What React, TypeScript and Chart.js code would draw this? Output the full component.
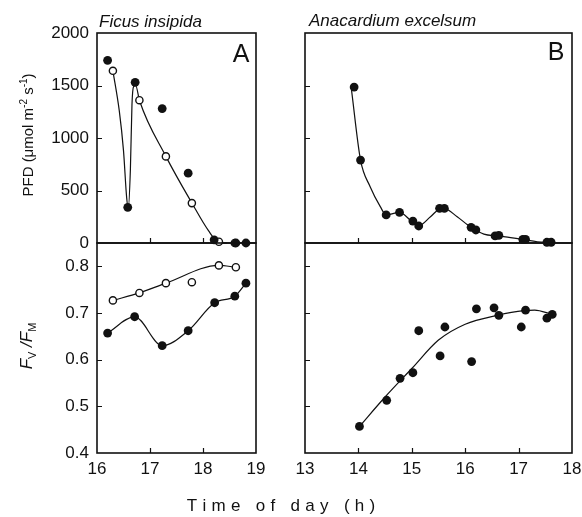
import React, { useEffect, useRef } from 'react';
import { Chart, registerables } from 'chart.js';

Chart.register(...registerables);

// ---------- Panel A : Ficus insipida, PFD ----------
const ficusPfdFilledTime = [16.2, 16.58, 16.72, 17.23, 17.72, 18.21, 18.62, 18.81];
const ficusPfdFilled = [1740, 340, 1530, 1280, 665, 30, 0, 0];
const ficusPfdOpenTime = [16.3, 16.8, 17.3, 17.79, 18.3, 18.6];
const ficusPfdOpen = [1640, 1360, 825, 380, 12, 0];
const ficusPfdCurveTime = [16.3, 16.42, 16.5, 16.56, 16.59, 16.63, 16.66, 16.69, 16.73, 16.8, 17.3, 17.79, 18.1, 18.3, 18.45];
const ficusPfdCurve = [1640, 1260, 880, 430, 330, 700, 1320, 1490, 1500, 1360, 825, 381, 120, 5, 0];

// ---------- Ficus insipida, Fv/Fm ----------
const ficusFvFilledTime = [16.2, 16.71, 17.23, 17.72, 18.22, 18.6, 18.81];
const ficusFvFilled = [0.657, 0.692, 0.63, 0.662, 0.722, 0.736, 0.764];
const ficusFvOpenTime = [16.3, 16.8, 17.3, 17.79, 18.3, 18.62];
const ficusFvOpen = [0.727, 0.743, 0.764, 0.766, 0.802, 0.798];
const ficusFvOpenCurveTime = [16.3, 16.8, 17.3, 18.3, 18.62];
const ficusFvOpenCurve = [0.727, 0.743, 0.764, 0.802, 0.798];

// ---------- Panel B : Anacardium excelsum, PFD ----------
const anaPfdTime = [13.92, 14.04, 14.52, 14.77, 15.02, 15.13, 15.52, 15.61, 16.11, 16.2, 16.56, 16.63, 17.08, 17.13, 17.53, 17.61];
const anaPfd = [1485, 790, 267, 292, 209, 162, 330, 330, 149, 124, 67, 73, 35, 35, 7, 7];
const anaPfdCurveTime = [13.87, 14.04, 14.22, 14.41, 14.52, 14.77, 15.0, 15.13, 15.35, 15.55, 15.62, 15.85, 16.11, 16.35, 16.6, 16.85, 17.1, 17.35, 17.6];
const anaPfdCurve = [1460, 790, 536, 346, 267, 292, 205, 165, 250, 330, 328, 250, 149, 85, 67, 52, 32, 12, 4];

// ---------- Anacardium excelsum, Fv/Fm ----------
const anaFvTime = [14.02, 14.53, 14.78, 15.02, 15.13, 15.53, 15.62, 16.12, 16.21, 16.54, 16.63, 17.05, 17.13, 17.53, 17.63];
const anaFv = [0.457, 0.513, 0.56, 0.572, 0.662, 0.608, 0.67, 0.596, 0.709, 0.711, 0.695, 0.67, 0.706, 0.689, 0.697];
const anaFvCurveTime = [14.02, 14.5, 15.0, 15.5, 16.0, 16.6, 17.1, 17.3, 17.63];
const anaFvCurve = [0.457, 0.52, 0.581, 0.642, 0.676, 0.695, 0.705, 0.706, 0.697];

// ---------- Axis ticks ----------
const leftTimeTicks = [16, 17, 18, 19];
const rightTimeTicks = [13, 14, 15, 16, 17, 18];
const pfdTicks = [0, 500, 1000, 1500, 2000];
const fvTicks = [0.4, 0.5, 0.6, 0.7, 0.8];

const W = 582;
const H = 517;
const INK = '#111';
const FONT = '"Liberation Sans", Arial, sans-serif';

const pts = (xs: number[], ys: number[]) => xs.map((x, i) => ({ x, y: ys[i] }));

const filledSet = (xs: number[], ys: number[]) => ({
  data: pts(xs, ys),
  showLine: false,
  pointRadius: 4.4,
  pointBackgroundColor: INK,
  pointBorderColor: INK,
  pointBorderWidth: 0,
  clip: false as any,
  order: 1,
});
const openSet = (xs: number[], ys: number[]) => ({
  data: pts(xs, ys),
  showLine: false,
  pointRadius: 3.6,
  pointBackgroundColor: '#fff',
  pointBorderColor: INK,
  pointBorderWidth: 1.4,
  clip: false as any,
  order: 2,
});
const curveSet = (xs: number[], ys: number[]) => ({
  data: pts(xs, ys),
  showLine: true,
  pointRadius: 0,
  borderColor: INK,
  borderWidth: 1.2,
  cubicInterpolationMode: 'monotone' as const,
  clip: false as any,
  order: 3,
});

type Area = { left: number; right: number; top: number; bottom: number };

type PanelCfg = {
  area: Area;
  xMin: number;
  xMax: number;
  yMin: number;
  yMax: number;
  xTicks: number[];
  yTicks: number[];
  showXLabels: boolean;
  showYLabels: boolean;
  innerX: number[];
  innerY: number[];
  datasets: any[];
  draw?: (ctx: CanvasRenderingContext2D) => void;
  yFmt: (v: number) => string;
};

const framePlugin = {
  id: 'frame',
  beforeDatasetsDraw(chart: any, _a: any, opts: any) {
    const { ctx, chartArea } = chart;
    const { left, right, top, bottom } = chartArea;
    ctx.save();
    ctx.strokeStyle = INK;
    ctx.lineWidth = 1.6;
    ctx.strokeRect(left, top, right - left, bottom - top);
    ctx.lineWidth = 1.2;
    const xs = chart.scales.x;
    const ys = chart.scales.y;
    ctx.beginPath();
    (opts.innerX || []).forEach((v: number) => {
      const px = Math.round(xs.getPixelForValue(v)) + 0.5;
      ctx.moveTo(px, bottom);
      ctx.lineTo(px, bottom - 5);
    });
    (opts.innerY || []).forEach((v: number) => {
      const py = Math.round(ys.getPixelForValue(v)) + 0.5;
      ctx.moveTo(left, py);
      ctx.lineTo(left + 5, py);
    });
    ctx.stroke();
    ctx.restore();
  },
  afterDraw(chart: any, _a: any, opts: any) {
    if (opts.draw) {
      const ctx = chart.ctx;
      ctx.save();
      opts.draw(ctx);
      ctx.restore();
    }
  },
};

type Part = { t: string; size: number; italic?: boolean; dy?: number };

function drawParts(ctx: CanvasRenderingContext2D, parts: Part[], cx: number, cy: number, rot: number, baseY: number) {
  ctx.save();
  ctx.translate(cx, cy);
  ctx.rotate(rot);
  ctx.fillStyle = INK;
  ctx.textBaseline = 'alphabetic';
  ctx.textAlign = 'left';
  const fontOf = (p: Part) => `${p.italic ? 'italic ' : ''}${p.size}px ${FONT}`;
  let total = 0;
  parts.forEach((p) => {
    ctx.font = fontOf(p);
    total += ctx.measureText(p.t).width;
  });
  let x = -total / 2;
  parts.forEach((p) => {
    ctx.font = fontOf(p);
    ctx.fillText(p.t, x, baseY + (p.dy || 0));
    x += ctx.measureText(p.t).width;
  });
  ctx.restore();
}

function drawSpaced(ctx: CanvasRenderingContext2D, text: string, cx: number, baseline: number, font: string, spacing: number) {
  ctx.save();
  ctx.font = font;
  ctx.fillStyle = INK;
  ctx.textBaseline = 'alphabetic';
  ctx.textAlign = 'left';
  const chars = text.split('');
  const widths = chars.map((c) => ctx.measureText(c).width);
  const total = widths.reduce((a, b) => a + b, 0) + spacing * (chars.length - 1);
  let x = cx - total / 2;
  chars.forEach((c, i) => {
    ctx.fillText(c, x, baseline);
    x += widths[i] + spacing;
  });
  ctx.restore();
}

function buildConfig(cfg: PanelCfg): any {
  const X_AXIS_H = 34;
  const tickFont = { family: FONT, size: 17 };
  return {
    type: 'scatter',
    data: { datasets: cfg.datasets },
    options: {
      responsive: false,
      animation: false,
      devicePixelRatio: 1,
      events: [],
      layout: {
        padding: {
          left: 0,
          right: W - cfg.area.right,
          top: cfg.area.top,
          bottom: H - cfg.area.bottom - X_AXIS_H,
        },
      },
      plugins: {
        legend: { display: false },
        tooltip: { enabled: false },
        frame: { innerX: cfg.innerX, innerY: cfg.innerY, draw: cfg.draw },
      },
      scales: {
        x: {
          type: 'linear',
          position: 'bottom',
          min: cfg.xMin,
          max: cfg.xMax,
          grid: { display: false, drawTicks: false },
          border: { display: false },
          ticks: {
            display: cfg.showXLabels,
            autoSkip: false,
            maxRotation: 0,
            padding: 6,
            color: INK,
            font: tickFont,
            callback: (v: number) => String(v),
          },
          afterBuildTicks: (s: any) => {
            s.ticks = cfg.xTicks.map((v) => ({ value: v }));
          },
          afterFit: (s: any) => {
            s.height = X_AXIS_H;
            s.paddingLeft = 0;
            s.paddingRight = 0;
          },
        },
        y: {
          type: 'linear',
          position: 'left',
          min: cfg.yMin,
          max: cfg.yMax,
          grid: { display: false, drawTicks: false },
          border: { display: false },
          ticks: {
            display: cfg.showYLabels,
            autoSkip: false,
            padding: 8,
            color: INK,
            font: tickFont,
            callback: (v: number) => cfg.yFmt(v),
          },
          afterBuildTicks: (s: any) => {
            s.ticks = cfg.yTicks.map((v) => ({ value: v }));
          },
          afterFit: (s: any) => {
            s.width = cfg.area.left;
            s.paddingTop = 0;
            s.paddingBottom = 0;
          },
        },
      },
    },
    plugins: [framePlugin],
  };
}

const LEFT_X = { left: 97, right: 256 };
const RIGHT_X = { left: 305, right: 572 };
const TOP_Y = { top: 33, bottom: 243 };
const BOT_Y = { top: 243, bottom: 453 };

const pfdFmt = (v: number) => String(v);
const fvFmt = (v: number) => v.toFixed(1);

const panels: PanelCfg[] = [
  {
    area: { ...LEFT_X, ...TOP_Y },
    xMin: 16, xMax: 19, yMin: 0, yMax: 2000,
    xTicks: leftTimeTicks, yTicks: pfdTicks,
    showXLabels: false, showYLabels: true,
    innerX: [17, 18], innerY: [500, 1000, 1500],
    yFmt: pfdFmt,
    datasets: [
      filledSet(ficusPfdFilledTime, ficusPfdFilled),
      openSet(ficusPfdOpenTime, ficusPfdOpen),
      curveSet(ficusPfdCurveTime, ficusPfdCurve),
    ],
    draw: (ctx) => {
      ctx.fillStyle = INK;
      ctx.font = `italic 17px ${FONT}`;
      ctx.textAlign = 'left';
      ctx.textBaseline = 'alphabetic';
      ctx.fillText('Ficus insipida', 99, 27);
      ctx.font = `25px ${FONT}`;
      ctx.textAlign = 'center';
      ctx.fillText('A', 241, 62);
      drawParts(
        ctx,
        [
          { t: 'PFD (μmol m', size: 15 },
          { t: '-2', size: 10, dy: -6 },
          { t: ' s', size: 15 },
          { t: '-1', size: 10, dy: -6 },
          { t: ')', size: 15 },
        ],
        28, 135, -Math.PI / 2, 5,
      );
    },
  },
  {
    area: { ...LEFT_X, ...BOT_Y },
    xMin: 16, xMax: 19, yMin: 0.4, yMax: 0.85,
    xTicks: leftTimeTicks, yTicks: fvTicks,
    showXLabels: true, showYLabels: true,
    innerX: [17, 18], innerY: [0.5, 0.6, 0.7, 0.8],
    yFmt: fvFmt,
    datasets: [
      filledSet(ficusFvFilledTime, ficusFvFilled),
      openSet(ficusFvOpenTime, ficusFvOpen),
      curveSet(ficusFvFilledTime, ficusFvFilled),
      curveSet(ficusFvOpenCurveTime, ficusFvOpenCurve),
    ],
    draw: (ctx) => {
      drawParts(
        ctx,
        [
          { t: 'F', size: 17, italic: true },
          { t: 'V', size: 11, dy: 4 },
          { t: ' /', size: 17, italic: true },
          { t: 'F', size: 17, italic: true },
          { t: 'M', size: 11, dy: 4 },
        ],
        28, 346, -Math.PI / 2, 4,
      );
      drawSpaced(ctx, 'Time of day (h)', 281, 511, `17px ${FONT}`, 5.3);
    },
  },
  {
    area: { ...RIGHT_X, ...TOP_Y },
    xMin: 13, xMax: 18, yMin: 0, yMax: 2000,
    xTicks: rightTimeTicks, yTicks: pfdTicks,
    showXLabels: false, showYLabels: false,
    innerX: [14, 15, 16, 17], innerY: [500, 1000, 1500],
    yFmt: pfdFmt,
    datasets: [
      filledSet(anaPfdTime, anaPfd),
      curveSet(anaPfdCurveTime, anaPfdCurve),
    ],
    draw: (ctx) => {
      ctx.fillStyle = INK;
      ctx.font = `italic 17px ${FONT}`;
      ctx.textAlign = 'left';
      ctx.textBaseline = 'alphabetic';
      ctx.fillText('Anacardium excelsum', 309, 26);
      ctx.font = `25px ${FONT}`;
      ctx.textAlign = 'center';
      ctx.fillText('B', 556, 60);
    },
  },
  {
    area: { ...RIGHT_X, ...BOT_Y },
    xMin: 13, xMax: 18, yMin: 0.4, yMax: 0.85,
    xTicks: rightTimeTicks, yTicks: fvTicks,
    showXLabels: true, showYLabels: false,
    innerX: [14, 15, 16, 17], innerY: [0.5, 0.6, 0.7, 0.8],
    yFmt: fvFmt,
    datasets: [
      filledSet(anaFvTime, anaFv),
      curveSet(anaFvCurveTime, anaFvCurve),
    ],
  },
];

function Panel({ cfg }: { cfg: PanelCfg }) {
  const ref = useRef<HTMLCanvasElement>(null);
  useEffect(() => {
    const chart = new Chart(ref.current as HTMLCanvasElement, buildConfig(cfg));
    return () => chart.destroy();
  }, [cfg]);
  return (
    <canvas
      ref={ref}
      width={W}
      height={H}
      style={{ position: 'absolute', left: 0, top: 0, width: W, height: H }}
    />
  );
}

export default function App() {
  return (
    <div style={{ position: 'fixed', left: 0, top: 0, width: W, height: H, background: '#fff' }}>
      {panels.map((p, i) => (
        <Panel key={i} cfg={p} />
      ))}
    </div>
  );
}
